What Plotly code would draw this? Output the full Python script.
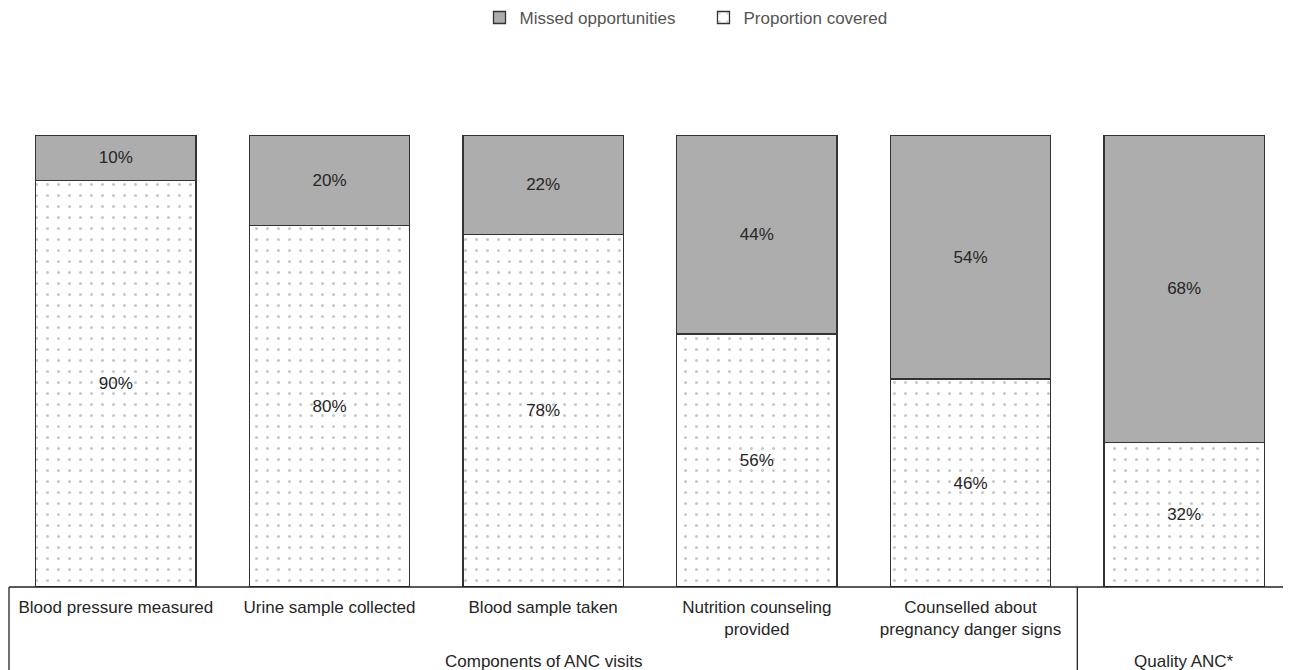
import plotly.graph_objects as go

categories = ["Blood pressure measured", "Urine sample collected", "Blood sample taken",
              "Nutrition counseling<br>provided", "Counselled about<br>pregnancy danger signs",
              "Quality ANC*"]
covered = [90, 80, 78, 56, 46, 32]
missed = [10, 20, 22, 44, 54, 68]
groups = ["Components of ANC visits", "Quality ANC*"]
group_members = [[0, 1, 2, 3, 4], [5]]

x = list(range(len(categories)))
FONT = "Liberation Sans, Arial, sans-serif"
TXT = "#262626"

fig = go.Figure()
fig.add_bar(
    x=x, y=covered, name="Proportion covered",
    text=[f"{v}%" for v in covered], textposition="inside", insidetextanchor="middle",
    textfont=dict(size=17, color=TXT, family=FONT),
    marker=dict(color="white", line=dict(color="#333333", width=1.3),
                pattern=dict(shape=".", fgcolor="#8f8f8f", bgcolor="white", size=11, solidity=0.06)),
)
fig.add_bar(
    x=x, y=missed, name="Missed opportunities",
    text=[f"{v}%" for v in missed], textposition="inside", insidetextanchor="middle",
    textfont=dict(size=17, color=TXT, family=FONT),
    marker=dict(color="#adadad", line=dict(color="#333333", width=1.3)),
)

n = len(categories)
shapes = []
line = dict(color="#222222", width=1.3)
shapes.append(dict(type="line", xref="paper", yref="paper", x0=0, x1=1.02, y0=0, y1=0, line=line))
shapes.append(dict(type="line", xref="paper", yref="paper", x0=0, x1=0, y0=0, y1=-0.25, line=line))
b = (group_members[0][-1] + 1) / n
shapes.append(dict(type="line", xref="paper", yref="paper", x0=b, x1=b, y0=0, y1=-0.25, line=line))

annotations = []
for g, members in zip(groups, group_members):
    cx = (members[0] + members[-1]) / 2
    annotations.append(dict(x=cx, xref="x", y=0, yref="paper", yshift=-63, yanchor="top",
                            text=g, showarrow=False, font=dict(size=17, color=TXT, family=FONT)))

fig.update_layout(
    barmode="stack", bargap=0.25,
    width=1283, height=662,
    margin=dict(l=1, r=0, t=127, b=83, autoexpand=False),
    plot_bgcolor="white", paper_bgcolor="white",
    font=dict(family=FONT, color=TXT),
    shapes=shapes, annotations=annotations,
    legend=dict(orientation="h", x=0.367, xanchor="left", yref="container", y=0.985, yanchor="middle",
                traceorder="reversed", font=dict(size=17, color="#555555", family=FONT),
                itemwidth=30, entrywidth=179, entrywidthmode="pixels"),
    xaxis=dict(range=[-0.5, n - 0.5], tickvals=x[:5], ticktext=categories[:5],
               showline=False, showgrid=False, zeroline=False, ticks="",
               tickfont=dict(size=17, color=TXT, family=FONT), ticklabelstandoff=8),
    yaxis=dict(range=[0, 100], visible=False),
)

fig.write_html("out.html")
